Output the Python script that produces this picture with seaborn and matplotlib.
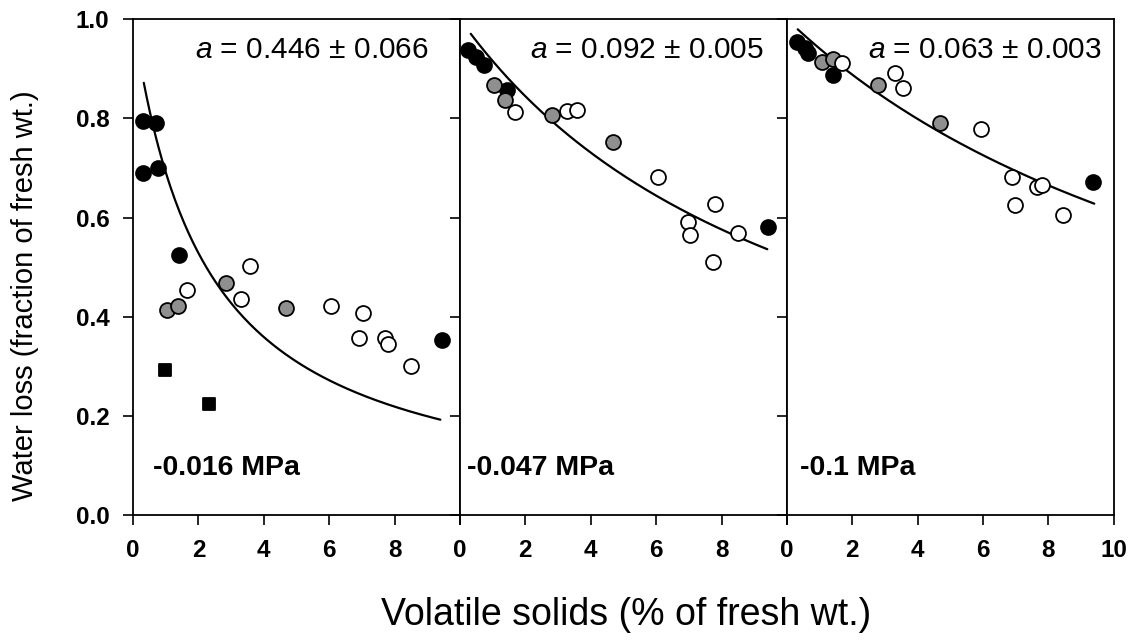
import numpy as np
import pandas as pd
import matplotlib.pyplot as plt
import seaborn as sns

# fitted parameter per panel, and the water potential of each run
panels = ["-0.016 MPa", "-0.047 MPa", "-0.1 MPa"]
a_fit = [0.446, 0.092, 0.063]
a_err = [0.066, 0.005, 0.003]

# points: x = volatile solids, y = water loss, kind = marker style
p1_x = [0.3, 0.7, 0.3, 0.75, 1.4, 9.44, 0.98, 2.32, 1.03, 1.39, 2.83, 4.67,
        1.66, 3.58, 3.30, 6.06, 7.02, 6.92, 7.71, 7.79, 8.50]
p1_y = [0.795, 0.79, 0.69, 0.70, 0.524, 0.354, 0.292, 0.224, 0.413, 0.421, 0.469, 0.417,
        0.454, 0.502, 0.435, 0.421, 0.408, 0.357, 0.358, 0.345, 0.300]
p1_k = ["black"] * 6 + ["square"] * 2 + ["grey"] * 4 + ["open"] * 9

p2_x = [0.25, 0.5, 0.75, 1.43, 9.43, 1.05, 1.38, 2.82, 4.69,
        1.68, 3.26, 3.57, 6.07, 7.80, 6.98, 7.03, 7.75, 8.51]
p2_y = [0.937, 0.924, 0.907, 0.857, 0.581, 0.867, 0.838, 0.806, 0.753,
        0.813, 0.815, 0.817, 0.682, 0.628, 0.591, 0.565, 0.511, 0.568]
p2_k = ["black"] * 5 + ["grey"] * 4 + ["open"] * 9

p3_x = [0.30, 0.55, 0.65, 1.42, 9.37, 1.06, 1.42, 2.79, 4.68,
        1.67, 3.30, 3.56, 5.95, 6.87, 6.97, 7.64, 7.79, 8.43]
p3_y = [0.954, 0.941, 0.931, 0.887, 0.672, 0.914, 0.919, 0.867, 0.790,
        0.911, 0.892, 0.862, 0.778, 0.682, 0.625, 0.662, 0.665, 0.605]
p3_k = ["black"] * 5 + ["grey"] * 4 + ["open"] * 9

df = pd.concat([
    pd.DataFrame({"panel": 0, "x": p1_x, "y": p1_y, "kind": p1_k}),
    pd.DataFrame({"panel": 1, "x": p2_x, "y": p2_y, "kind": p2_k}),
    pd.DataFrame({"panel": 2, "x": p3_x, "y": p3_y, "kind": p3_k}),
])

sns.set_style("ticks")
plt.rcParams["font.family"] = ["Liberation Sans", "DejaVu Sans"]
plt.rcParams["mathtext.fontset"] = "custom"
plt.rcParams["mathtext.it"] = "Liberation Sans:italic"
plt.rcParams["mathtext.rm"] = "Liberation Sans"
for key in ["text.color", "axes.labelcolor", "xtick.color", "ytick.color"]:
    plt.rcParams[key] = "black"

styles = {
    "black": dict(marker="o", color="black", s=115),
    "grey": dict(marker="o", color="#8f8f8f", s=115),
    "open": dict(marker="o", color="white", s=115),
    "square": dict(marker="s", color="black", s=70),
}
text_x = [1.9, 2.14, 2.48]
mpa_x = [0.61, 0.21, 0.40]

fig, axes = plt.subplots(1, 3, figsize=(11.32, 6.4), dpi=100, sharey=True)
plt.subplots_adjust(left=0.1175, right=0.984, bottom=0.195, top=0.970, wspace=0)

for i, ax in enumerate(axes):
    sub = df[df["panel"] == i]
    # fitted curve y = 1 / (1 + a x)
    xf = np.linspace(0.33, 9.4, 200)
    sns.lineplot(x=xf, y=1 / (1 + a_fit[i] * xf), ax=ax, color="black", lw=1.6)
    for kind, st in styles.items():
        s = sub[sub["kind"] == kind]
        if len(s) == 0:
            continue
        sns.scatterplot(x=s["x"], y=s["y"], ax=ax, marker=st["marker"], color=st["color"],
                        s=st["s"], edgecolor="black", linewidth=1.3, zorder=3)
    ax.set_xlim(0, 10)
    ax.set_ylim(0, 1.0)
    ax.set_xticks(range(0, 11, 2))
    if i < 2:
        ax.set_xticklabels(["0", "2", "4", "6", "8", ""])
    ax.set_yticks(np.arange(0, 1.01, 0.2))
    ax.tick_params(direction="out", length=7, width=1.2, labelsize=17.5, pad=10)
    for lab in ax.get_xticklabels() + ax.get_yticklabels():
        lab.set_fontweight("bold")
    for sp in ax.spines.values():
        sp.set_visible(True)
        sp.set_linewidth(1.3)
        sp.set_color("black")
    ax.set_xlabel("")
    ax.set_ylabel("")
    ax.text(text_x[i], 0.937, r"$\it{a}$ = %.3f ± %.3f" % (a_fit[i], a_err[i]),
            fontsize=21.5, ha="left", va="center")
    ax.text(mpa_x[i], 0.095, panels[i], fontsize=20.5, fontweight="bold",
            ha="left", va="center")

fig.text(0.022, 0.5375, "Water loss (fraction of fresh wt.)", fontsize=21,
         rotation=90, ha="center", va="center")
fig.text(0.553, 0.039, "Volatile solids (% of fresh wt.)", fontsize=27, ha="center", va="center")

plt.savefig("out.png", dpi=100)
